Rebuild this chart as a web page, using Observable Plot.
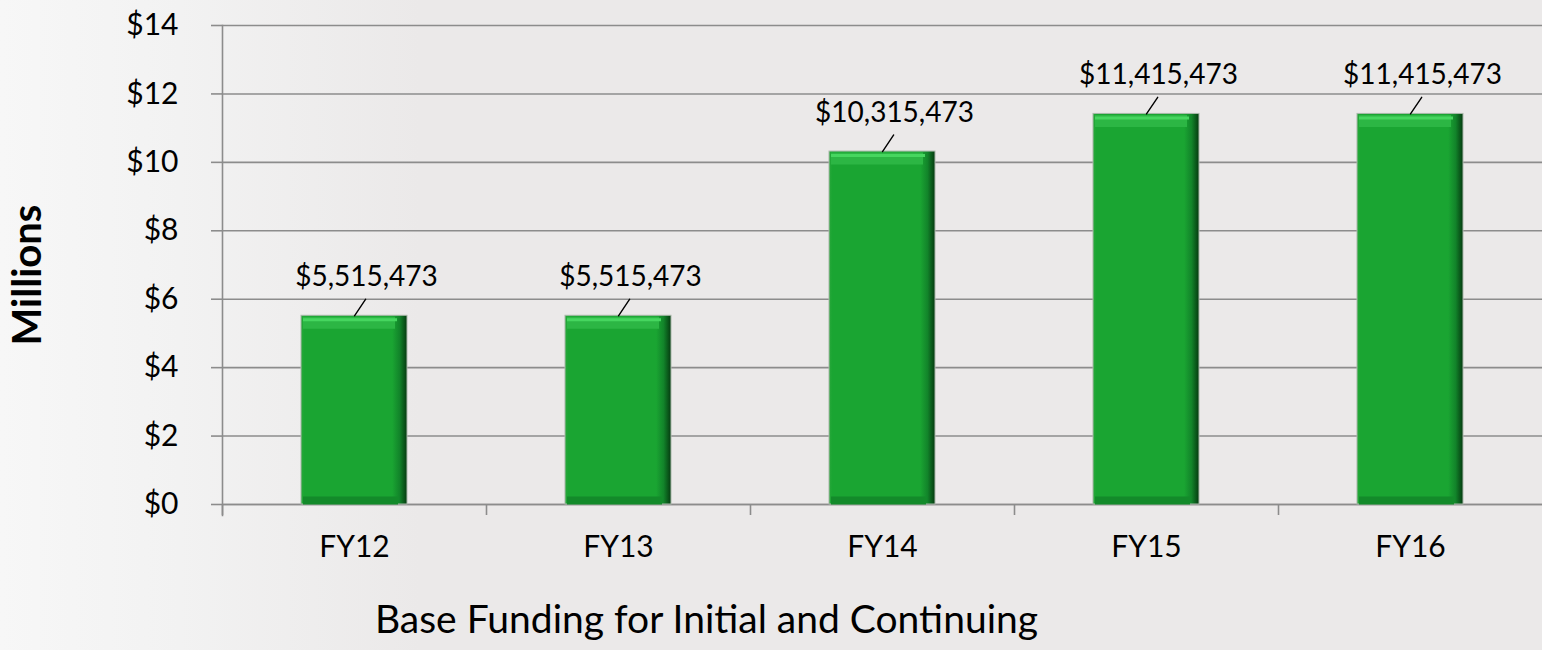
<!DOCTYPE html>
<html>
<head>
<meta charset="utf-8">
<script src="https://cdn.jsdelivr.net/npm/d3@7"></script>
<script src="https://cdn.jsdelivr.net/npm/@observablehq/plot@0.6"></script>
<style>
  html, body { margin: 0; padding: 0; }
  body {
    width: 1542px; height: 650px; overflow: hidden;
    background: linear-gradient(90deg, #f7f7f7 0px, #f2f2f2 180px, #ebe9e9 420px, #ebe9e9 100%);
    font-family: Lato, "Open Sans", sans-serif;
  }
  #chart svg { display: block; }
</style>
</head>
<body>
<div id="chart"></div>
<script>
// ---- data ----
const categories = ["FY12", "FY13", "FY14", "FY15", "FY16"];
const funding = [5515473, 5515473, 10315473, 11415473, 11415473];
const yTicks = [0, 2e6, 4e6, 6e6, 8e6, 10e6, 12e6, 14e6];
const yTitle = "Millions";
const xTitle = "Base Funding for Initial and Continuing";

const data = categories.map((c, i) => ({cat: c, value: funding[i]}));

const grid = "#8c8c8c";

const chart = Plot.plot({
  width: 1542,
  height: 650,
  marginLeft: 222,
  marginRight: 0,
  marginTop: 25,
  marginBottom: 146,
  style: {background: "transparent", fontFamily: "Lato, 'Open Sans', sans-serif", fontSize: "28px", color: "#000", overflow: "visible"},
  x: {domain: categories, paddingInner: 0.6, paddingOuter: 0.3, axis: null},
  y: {domain: [0, 14e6], axis: null},
  marks: [
    // gridlines + y ticks
    Plot.gridY(yTicks, {stroke: grid, strokeOpacity: 1, strokeWidth: 1.6}),
    Plot.axisY(yTicks, {
      tickSize: 11, tickPadding: 33, stroke: grid, strokeWidth: 1.6,
      tickFormat: d => "$" + d / 1e6, fill: "#000", label: null, fontSize: 30
    }),
    // left axis line
    Plot.frame({anchor: "left", stroke: grid, strokeWidth: 1.6, insetBottom: -11}),
    // x tick marks at band boundaries
    Plot.ruleX(categories, {x: d => d, y1: 0, y2: 0, dx: -132, insetBottom: -11, stroke: grid, strokeWidth: 1.6}),
    Plot.ruleY([0], {stroke: grid, strokeWidth: 1.6}),
    // bars
    Plot.barY(data, {x: "cat", y: "value", fill: "url(#barGrad)", stroke: "#a9b8aa", strokeWidth: 1}),
    Plot.tickY(data, {x: "cat", y: "value", dy: 7, strokeWidth: 12, stroke: "#2cb644", insetRight: 12, insetLeft: 2}),
    Plot.tickY(data, {x: "cat", y: "value", dy: 4, strokeWidth: 3, stroke: "#46d65f", insetRight: 10, insetLeft: 2}),
    Plot.tickY(data, {x: "cat", y: () => 0, dy: -4, strokeWidth: 8, stroke: "#138a2a", insetRight: 9, insetLeft: 2}),
    // leader lines
    Plot.vector(data, {x: "cat", y: "value", length: 20, rotate: 34, anchor: "start", r: 0, stroke: "#000", strokeWidth: 1.4}),
    // value labels
    Plot.text(data, {
      x: "cat", y: "value", dx: 12, dy: -39,
      text: d => "$" + d3.format(",")(d.value), fontSize: 28, fill: "#000"
    }),
    // x tick labels
    Plot.text(data, {x: "cat", frameAnchor: "bottom", dy: 52, text: "cat", fontSize: 30, fill: "#000"}),
    // axis titles
    Plot.text([yTitle], {frameAnchor: "left", textAnchor: "middle", dx: -194, dy: 10, rotate: -90, text: d => d, fontSize: 40, fontWeight: "bold", fill: "#000"}),
    Plot.text([xTitle], {frameAnchor: "bottom", dx: -176, dy: 128, text: d => d, fontSize: 39, fill: "#000"})
  ]
});

// paint server for the bevelled bar look
const defs = d3.select(chart).insert("defs", ":first-child");
const g1 = defs.append("linearGradient").attr("id", "barGrad").attr("x1", 0).attr("x2", 1).attr("y1", 0).attr("y2", 0);
[[0, "#2aa83c"], [0.03, "#1aa532"], [0.86, "#1aa532"], [0.93, "#12842a"], [1, "#053a10"]]
  .forEach(([o, c]) => g1.append("stop").attr("offset", o).attr("stop-color", c));

document.getElementById("chart").appendChild(chart);
</script>
</body>
</html>
